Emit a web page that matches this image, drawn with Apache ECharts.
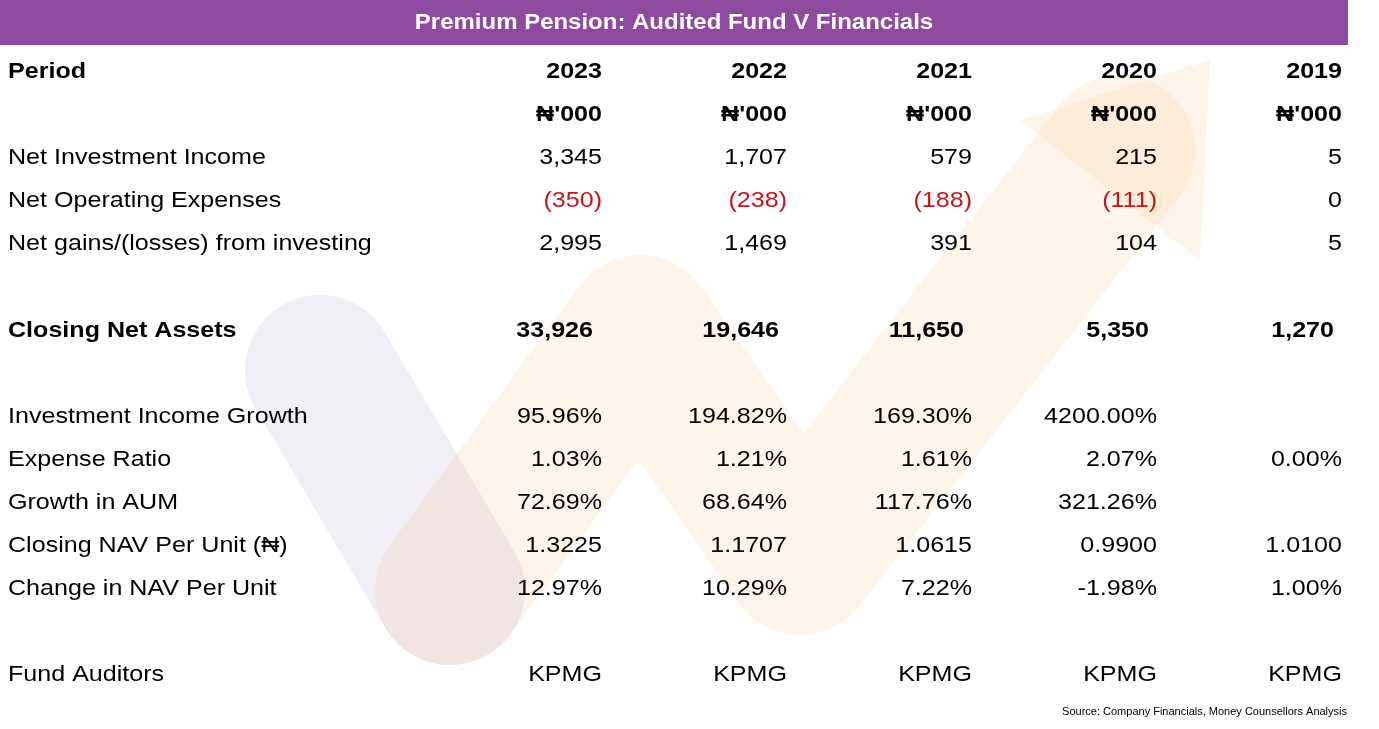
<!DOCTYPE html>
<html>
<head>
<meta charset="utf-8">
<script src="https://cdn.jsdelivr.net/npm/echarts@6/dist/echarts.min.js"></script>
<style>
  html, body { margin: 0; padding: 0; background: #fff; }
  #chart { width: 1379px; height: 729px; }
</style>
</head>
<body>
<div id="chart"></div>
<script>
// Table data
const title = 'Premium Pension: Audited Fund V Financials';
const years = ['2023', '2022', '2021', '2020', '2019'];
const unitRow = ["₦'000", "₦'000", "₦'000", "₦'000", "₦'000"];
const netInvestmentIncome = ['3,345', '1,707', '579', '215', '5'];
const netOperatingExpenses = ['(350)', '(238)', '(188)', '(111)', '0'];
const netGains = ['2,995', '1,469', '391', '104', '5'];
const closingNetAssets = ['33,926', '19,646', '11,650', '5,350', '1,270'];
const incomeGrowth = ['95.96%', '194.82%', '169.30%', '4200.00%', ''];
const expenseRatio = ['1.03%', '1.21%', '1.61%', '2.07%', '0.00%'];
const growthAUM = ['72.69%', '68.64%', '117.76%', '321.26%', ''];
const closingNAV = ['1.3225', '1.1707', '1.0615', '0.9900', '1.0100'];
const changeNAV = ['12.97%', '10.29%', '7.22%', '-1.98%', '1.00%'];
const auditors = ['KPMG', 'KPMG', 'KPMG', 'KPMG', 'KPMG'];
const source = 'Source: Company Financials, Money Counsellors Analysis';

// row layout: [label, values, y, bold]
const rows = [
  ['Period', years, 72, true],
  ['', unitRow, 115, true],
  ['Net Investment Income', netInvestmentIncome, 158, false],
  ['Net Operating Expenses', netOperatingExpenses, 201, false],
  ['Net gains/(losses) from investing', netGains, 244, false],
  ['Closing Net Assets', closingNetAssets, 331, true],
  ['Investment Income Growth', incomeGrowth, 417, false],
  ['Expense Ratio', expenseRatio, 460, false],
  ['Growth in AUM', growthAUM, 503, false],
  ['Closing NAV Per Unit (₦)', closingNAV, 546, false],
  ['Change in NAV Per Unit', changeNAV, 589, false],
  ['Fund Auditors', auditors, 675, false]
];
const colX = [602, 787, 972, 1157, 1342];
const boldColX = [593, 779, 964, 1149, 1334];
const font = '"Liberation Sans", Arial, sans-serif';
const stretch = 1.14;

const elements = [];

// faint watermark
elements.push({
  type: 'polyline', silent: true,
  shape: { points: [[320, 370], [450, 590]] },
  style: { stroke: 'rgba(120,90,170,0.10)', lineWidth: 150, lineCap: 'round', lineJoin: 'round', fill: null }
});
elements.push({
  type: 'polyline', silent: true,
  shape: { points: [[450, 590], [640, 330], [800, 560], [1120, 150]] },
  style: { stroke: 'rgba(245,160,50,0.10)', lineWidth: 150, lineCap: 'round', lineJoin: 'round', fill: null }
});
elements.push({
  type: 'polygon', silent: true,
  shape: { points: [[1020, 120], [1210, 60], [1200, 260]] },
  style: { fill: 'rgba(245,160,50,0.10)' }
});

// title bar
elements.push({
  type: 'rect', shape: { x: 0, y: 0, width: 1348, height: 45 },
  style: { fill: '#8e4a9e' }
});
elements.push({
  type: 'text', x: 674, y: 23, scaleX: 1.09,
  style: { text: title, fill: '#fff', font: 'bold 22px ' + font, textAlign: 'center', textVerticalAlign: 'middle' }
});

rows.forEach(([label, vals, y, bold]) => {
  if (label) {
    elements.push({
      type: 'text', x: 8, y: y, scaleX: stretch,
      style: { text: label, fill: '#000', font: (bold ? 'bold ' : '') + '22px ' + font, textVerticalAlign: 'middle' }
    });
  }
  const xs = label === 'Closing Net Assets' ? boldColX : colX;
  vals.forEach((v, i) => {
    elements.push({
      type: 'text', x: xs[i], y: y, scaleX: stretch,
      style: {
        text: v,
        fill: v.startsWith('(') ? '#c4161c' : '#000',
        font: (bold ? 'bold ' : '') + '22px ' + font,
        textAlign: 'right', textVerticalAlign: 'middle'
      }
    });
  });
});

elements.push({
  type: 'text', x: 1347, y: 712,
  style: { text: source, fill: '#000', font: '11px ' + font, textAlign: 'right', textVerticalAlign: 'middle' }
});

const chart = echarts.init(document.getElementById('chart'));
chart.setOption({ backgroundColor: '#fff', animation: false, graphic: { elements } });
</script>
</body>
</html>
